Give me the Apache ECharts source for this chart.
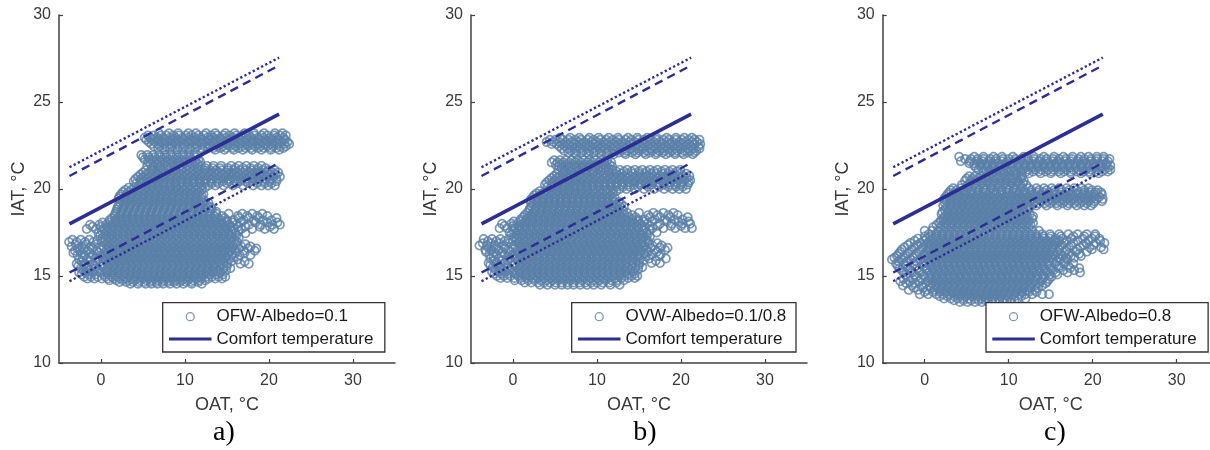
<!DOCTYPE html>
<html>
<head>
<meta charset="utf-8">
<script src="https://cdn.jsdelivr.net/npm/echarts@6/dist/echarts.min.js"></script>
<style>
  html, body { margin: 0; padding: 0; background: #fff; }
  #chart { width: 1210px; height: 450px; }
</style>
</head>
<body>
<div id="chart"></div>
<script>
// ---- labels ----
const panelTags = ['a)', 'b)', 'c)'];
const scatterNames = ['OFW-Albedo=0.1', 'OVW-Albedo=0.1/0.8', 'OFW-Albedo=0.8'];
const comfortName = 'Comfort temperature';
const xTicks = [0, 10, 20, 30];

// ---- comfort temperature line and its acceptability bands (OAT end points) ----
const lineX = [-3.75, 21.2];
const comfortY = [18.0, 24.3];
const upperDashY = [20.75, 27.1];
const lowerDashY = [15.2, 21.5];
const upperDotY = [21.25, 27.55];
const lowerDotY = [14.7, 21.0];

// ---- hourly IAT vs OAT samples, grouped by IAT row: [IAT, OAT, OAT, ...] ----
const cloudA = [
  [23.2, 6.9, 8.1, 9.2, 10.4, 11.3, 12.5, 13.6, 14.8, 15.9, 17.1, 18.2, 19.4, 20.7, 21.6],
  [23.08, 5.6, 6.3, 7.1, 7.8, 8.6, 9.3, 10.1, 10.8, 11.6, 12.3, 13.1, 13.8, 14.6, 15.3, 16.1, 16.8, 17.6, 18.3, 19.1, 19.8, 20.6, 21.3, 22.0],
  [22.95, 5.2, 5.9, 6.7, 7.4, 8.2, 8.9, 9.7, 10.4, 11.2, 11.9, 12.7, 13.4, 14.2, 14.9, 15.7, 16.4, 17.2, 17.9, 18.7, 19.4, 20.2, 20.9, 21.7],
  [22.83, 5.4, 6.1, 6.8, 7.6, 8.3, 9.1, 9.8, 10.6, 11.3, 12.1, 12.8, 13.6, 14.3, 15.1, 15.8, 16.6, 17.3, 18.1, 18.8, 19.6, 20.3, 21.1, 21.9],
  [22.7, 5.7, 6.4, 7.2, 7.9, 8.7, 9.4, 10.2, 10.9, 11.7, 12.4, 13.2, 13.9, 14.7, 15.4, 16.2, 16.9, 17.7, 18.4, 19.2, 19.9, 20.7, 21.4, 22.2],
  [22.58, 6.0, 6.8, 7.5, 8.3, 9.0, 9.8, 10.5, 11.3, 12.0, 12.8, 13.5, 14.3, 15.0, 15.8, 16.5, 17.3, 18.0, 18.8, 19.5, 20.3, 21.0, 21.8, 22.4],
  [22.45, 6.3, 7.0, 7.8, 8.5, 9.3, 10.0, 10.8, 11.5, 12.3, 13.0, 13.8, 14.5, 15.3, 16.0, 16.8, 17.5, 18.3, 19.0, 19.8, 20.5, 21.3, 22.0],
  [22.35, 6.8, 7.4, 8.2, 8.9, 9.7, 10.4, 11.2, 11.9, 12.7, 13.4, 14.2, 14.9, 15.7, 16.4, 17.2, 17.9, 18.7, 19.4, 20.2, 20.9, 21.7],
  [22.25, 7.6, 9.1, 10.6, 12.1, 13.6, 14.7, 15.8, 16.9, 18.0, 19.1, 20.2, 21.2],
  [21.95, 4.8, 5.5, 6.2, 6.9, 7.6, 8.3, 9.0, 9.7, 10.4, 11.1],
  [21.83, 5.0, 5.7, 6.4, 7.1, 7.8, 8.5, 9.2, 9.9, 10.6, 11.3],
  [21.7, 5.2, 5.9, 6.6, 7.3, 8.0, 8.7, 9.4, 10.1, 10.8, 11.6],
  [21.58, 5.6, 6.3, 7.0, 7.7, 8.4, 9.1, 9.8, 10.5, 11.2, 11.8],
  [21.45, 5.9, 6.7, 7.5, 8.3, 9.1, 9.9, 10.7, 11.5],
  [21.33, 5.5, 6.3, 7.1, 7.9, 8.7, 9.5, 10.3, 11.1, 11.9, 12.6, 13.4, 14.3, 15.5, 16.4, 17.3, 18.2, 19.1],
  [21.2, 6.1, 7.0, 7.9, 8.8, 9.7, 10.6, 11.5, 12.4, 13.3, 14.2, 15.1, 16.0, 16.9, 17.8, 18.7, 19.6],
  [21.08, 5.3, 6.0, 6.7, 7.4, 8.1, 8.8, 9.5, 10.2, 10.9, 11.6, 12.3, 13.0, 13.7, 14.4, 15.1, 15.8, 16.5, 17.2, 17.9, 18.6, 19.3, 20.0, 20.7],
  [20.95, 5.0, 5.7, 6.4, 7.1, 7.8, 8.5, 9.2, 9.9, 10.6, 11.3, 12.0, 12.7, 13.4, 14.1, 14.8, 15.5, 16.2, 16.9, 17.6, 18.3, 19.0, 19.7, 20.4, 21.1],
  [20.83, 4.7, 5.4, 6.1, 6.8, 7.5, 8.2, 8.9, 9.6, 10.3, 11.0, 11.7, 12.4, 13.1, 13.8, 14.5, 15.2, 15.9, 16.6, 17.3, 18.0, 18.7, 19.4, 20.1, 20.8],
  [20.7, 4.4, 5.1, 5.8, 6.5, 7.2, 7.9, 8.6, 9.3, 10.0, 10.7, 11.4, 12.1, 12.8, 13.5, 14.2, 14.9, 15.6, 16.3, 17.0, 17.7, 18.4, 19.1, 19.8, 20.5, 21.3],
  [20.58, 4.1, 4.8, 5.5, 6.2, 6.9, 7.6, 8.3, 9.0, 9.7, 10.4, 11.1, 11.8, 12.5, 13.2, 13.9, 14.6, 15.3, 16.0, 16.7, 17.4, 18.1, 18.8, 19.5, 20.2, 20.9],
  [20.45, 3.9, 4.7, 5.4, 6.1, 6.8, 7.5, 8.2, 8.9, 9.6, 10.3, 11.0, 11.7, 12.4, 13.1, 13.8, 14.5, 15.2, 15.9, 16.6, 17.3, 18.0, 18.7, 19.4, 20.1, 20.9],
  [20.33, 4.2, 4.9, 5.7, 6.4, 7.2, 7.9, 8.7, 9.4, 10.2, 10.9, 11.7, 12.4, 13.2, 14.0, 15.0, 16.2, 17.5, 18.6, 19.5, 20.3],
  [20.2, 4.5, 5.3, 6.0, 6.8, 7.5, 8.3, 9.0, 9.8, 10.5, 11.3, 12.0, 12.8, 13.6, 14.6, 15.7, 16.9, 18.1, 19.1, 19.9, 20.7],
  [20.08, 3.3, 4.0, 4.7, 5.4, 6.1, 6.8, 7.5, 8.2, 8.9, 9.6, 10.3, 11.0, 11.7, 12.4],
  [19.95, 2.9, 3.6, 4.3, 5.0, 5.7, 6.4, 7.1, 7.8, 8.5, 9.2, 9.9, 10.6, 11.3, 12.0],
  [19.83, 2.6, 3.3, 4.0, 4.7, 5.4, 6.1, 6.8, 7.5, 8.2, 8.9, 9.6, 10.3, 11.0, 11.7],
  [19.7, 2.4, 3.1, 3.8, 4.5, 5.2, 5.9, 6.6, 7.3, 8.0, 8.7, 9.4, 10.1, 10.8, 11.5, 12.2],
  [19.58, 2.2, 2.9, 3.6, 4.3, 5.0, 5.7, 6.4, 7.1, 7.8, 8.5, 9.2, 9.9, 10.6, 11.3, 12.0],
  [19.45, 2.1, 2.8, 3.5, 4.2, 4.9, 5.6, 6.3, 7.0, 7.7, 8.4, 9.1, 9.8, 10.5, 11.2, 11.9],
  [19.33, 2.5, 3.2, 3.9, 4.6, 5.3, 6.0, 6.7, 7.4, 8.1, 8.8, 9.5, 10.2, 10.9, 11.6, 12.3],
  [19.2, 2.3, 3.0, 3.7, 4.4, 5.1, 5.8, 6.5, 7.2, 7.9, 8.6, 9.3, 10.0, 10.7, 11.4, 12.1, 12.8],
  [19.08, 2.1, 2.8, 3.5, 4.2, 4.9, 5.6, 6.3, 7.0, 7.7, 8.4, 9.1, 9.8, 10.5, 11.2, 11.9, 12.6],
  [18.95, 2.0, 2.7, 3.4, 4.1, 4.8, 5.5, 6.2, 6.9, 7.6, 8.3, 9.0, 9.7, 10.4, 11.1, 11.8, 12.5, 13.1],
  [18.83, 1.9, 2.6, 3.3, 4.0, 4.7, 5.4, 6.1, 6.8, 7.5, 8.2, 8.9, 9.6, 10.3, 11.0, 11.7, 12.4, 13.2],
  [18.7, 1.8, 2.5, 3.2, 3.9, 4.6, 5.3, 6.0, 6.7, 7.4, 8.1, 8.8, 9.5, 10.2, 10.9, 11.6, 12.3, 13.0, 13.7],
  [18.58, 1.7, 2.4, 3.1, 3.8, 4.5, 5.2, 5.9, 6.6, 7.3, 8.0, 8.7, 9.4, 10.1, 10.8, 11.5, 12.2, 12.9, 13.7, 15.2, 16.8, 18.0, 19.2],
  [18.45, 1.6, 2.3, 3.0, 3.7, 4.4, 5.1, 5.8, 6.5, 7.2, 7.9, 8.6, 9.3, 10.0, 10.7, 11.4, 12.1, 12.8, 13.5, 14.4, 16.3, 17.4, 18.6, 19.8],
  [18.33, 1.3, 2.0, 2.7, 3.4, 4.1, 4.8, 5.5, 6.2, 6.9, 7.6, 8.3, 9.0, 9.7, 10.4, 11.1, 11.8, 12.5, 13.2, 13.9, 14.7, 16.4, 17.6, 18.8, 20.9],
  [18.2, 1.0, 1.7, 2.4, 3.1, 3.8, 4.5, 5.2, 5.9, 6.6, 7.3, 8.0, 8.7, 9.4, 10.1, 10.8, 11.5, 12.2, 12.9, 13.6, 14.3, 15.0, 15.8, 17.0, 18.2, 19.3, 20.3],
  [18.08, 0.2, 1.0, 1.7, 2.4, 3.1, 3.8, 4.5, 5.2, 5.9, 6.6, 7.3, 8.0, 8.7, 9.4, 10.1, 10.8, 11.5, 12.2, 12.9, 13.6, 14.3, 15.0, 15.7, 16.6, 18.4, 19.8, 21.0],
  [17.95, -1.3, -0.2, 0.6, 1.3, 2.0, 2.7, 3.4, 4.1, 4.8, 5.5, 6.2, 6.9, 7.6, 8.3, 9.0, 9.7, 10.4, 11.1, 11.8, 12.5, 13.2, 13.9, 14.6, 15.3, 16.1, 17.6, 19.0, 20.4, 21.3],
  [17.83, -1.0, 0.0, 0.7, 1.4, 2.1, 2.8, 3.5, 4.2, 4.9, 5.6, 6.3, 7.0, 7.7, 8.4, 9.1, 9.8, 10.5, 11.2, 11.9, 12.6, 13.3, 14.0, 14.7, 15.4, 16.3, 17.2, 18.9, 20.1],
  [17.7, -1.7, -0.6, 0.3, 1.0, 1.7, 2.4, 3.1, 3.8, 4.5, 5.2, 5.9, 6.6, 7.3, 8.0, 8.7, 9.4, 10.1, 10.8, 11.5, 12.2, 12.9, 13.6, 14.3, 15.0, 15.8, 16.7, 18.0, 19.5, 20.6],
  [17.58, 0.1, 0.8, 1.5, 2.2, 2.9, 3.6, 4.3, 5.0, 5.7, 6.4, 7.1, 7.8, 8.5, 9.2, 9.9, 10.6, 11.3, 12.0, 12.7, 13.4, 14.1, 14.8, 15.6, 16.4],
  [17.45, -0.3, 0.5, 1.2, 1.9, 2.6, 3.3, 4.0, 4.7, 5.4, 6.1, 6.8, 7.5, 8.2, 8.9, 9.6, 10.3, 11.0, 11.7, 12.4, 13.1, 13.8, 14.5, 15.2, 16.0, 17.2],
  [17.33, -0.1, 0.6, 1.3, 2.0, 2.7, 3.4, 4.1, 4.8, 5.5, 6.2, 6.9, 7.6, 8.3, 9.0, 9.7, 10.4, 11.1, 11.8, 12.5, 13.2, 13.9, 14.6, 15.3, 16.1],
  [17.2, 0.2, 0.9, 1.6, 2.3, 3.0, 3.7, 4.4, 5.1, 5.8, 6.5, 7.2, 7.9, 8.6, 9.3, 10.0, 10.7, 11.4, 12.1, 12.8, 13.5, 14.2, 14.9, 15.6, 16.4],
  [17.08, -3.4, -2.4, -1.4, -0.4, 0.5, 1.2, 1.9, 2.6, 3.3, 4.0, 4.7, 5.4, 6.1, 6.8, 7.5, 8.2, 8.9, 9.6, 10.3, 11.0, 11.7, 12.4, 13.1, 13.8, 14.5, 15.2, 15.9],
  [16.95, -3.8, -2.9, -1.9, -0.9, 0.1, 0.8, 1.5, 2.2, 2.9, 3.6, 4.3, 5.0, 5.7, 6.4, 7.1, 7.8, 8.5, 9.2, 9.9, 10.6, 11.3, 12.0, 12.7, 13.4, 14.1, 14.8, 15.5, 16.2],
  [16.83, -3.0, -1.8, -0.6, 0.6, 1.3, 2.0, 2.7, 3.4, 4.1, 4.8, 5.5, 6.2, 6.9, 7.6, 8.3, 9.0, 9.7, 10.4, 11.1, 11.8, 12.5, 13.2, 13.9, 14.6, 15.3, 16.1, 17.2],
  [16.7, -3.5, -2.3, -1.2, 0.3, 1.0, 1.7, 2.4, 3.1, 3.8, 4.5, 5.2, 5.9, 6.6, 7.3, 8.0, 8.7, 9.4, 10.1, 10.8, 11.5, 12.2, 12.9, 13.6, 14.3, 15.0, 15.7, 16.7, 17.8],
  [16.58, -2.8, -2.0, -1.0, 0.0, 0.9, 1.6, 2.3, 3.0, 3.7, 4.4, 5.1, 5.8, 6.5, 7.2, 7.9, 8.6, 9.3, 10.0, 10.7, 11.4, 12.1, 12.8, 13.5, 14.2, 14.9, 15.6, 16.4, 17.5, 18.5],
  [16.45, -3.1, -2.5, -1.6, -0.5, 0.6, 1.3, 2.0, 2.7, 3.4, 4.1, 4.8, 5.5, 6.2, 6.9, 7.6, 8.3, 9.0, 9.7, 10.4, 11.1, 11.8, 12.5, 13.2, 13.9, 14.6, 15.3, 16.0, 17.0, 18.3],
  [16.33, -3.3, -2.3, -1.3, -0.3, 0.5, 1.2, 1.9, 2.6, 3.3, 4.0, 4.7, 5.4, 6.1, 6.8, 7.5, 8.2, 8.9, 9.6, 10.3, 11.0, 11.7, 12.4, 13.1, 13.8, 14.5, 15.2, 16.0, 17.1],
  [16.2, -2.8, -2.0, -1.0, 0.0, 0.8, 1.5, 2.2, 2.9, 3.6, 4.3, 5.0, 5.7, 6.4, 7.1, 7.8, 8.5, 9.2, 9.9, 10.6, 11.3, 12.0, 12.7, 13.4, 14.1, 14.8, 15.6, 16.5, 17.8],
  [16.08, -2.2, -1.3, -0.6, 0.2, 0.9, 1.6, 2.3, 3.0, 3.7, 4.4, 5.1, 5.8, 6.5, 7.2, 7.9, 8.6, 9.3, 10.0, 10.7, 11.4, 12.1, 12.8, 13.5, 14.2, 14.9, 15.8],
  [15.95, -2.6, -1.6, -0.3, 0.5, 1.2, 1.9, 2.6, 3.3, 4.0, 4.7, 5.4, 6.1, 6.8, 7.5, 8.2, 8.9, 9.6, 10.3, 11.0, 11.7, 12.4, 13.1, 13.8, 14.5, 15.2, 16.3],
  [15.83, -2.3, -1.3, -0.6, 0.6, 1.3, 2.0, 2.7, 3.4, 4.1, 4.8, 5.5, 6.2, 6.9, 7.6, 8.3, 9.0, 9.7, 10.4, 11.1, 11.8, 12.5, 13.2, 13.9, 14.6, 15.5, 17.1],
  [15.7, -2.9, -2.0, -1.0, 0.2, 0.9, 1.6, 2.3, 3.0, 3.7, 4.4, 5.1, 5.8, 6.5, 7.2, 7.9, 8.6, 9.3, 10.0, 10.7, 11.4, 12.1, 12.8, 13.5, 14.2, 15.0, 16.6, 17.6],
  [15.58, -2.7, -1.8, -0.8, 0.1, 0.8, 1.5, 2.2, 2.9, 3.6, 4.3, 5.0, 5.7, 6.4, 7.1, 7.8, 8.5, 9.2, 9.9, 10.6, 11.3, 12.0, 12.7, 13.4, 14.2, 15.0],
  [15.45, -2.4, -1.5, -0.6, 0.4, 1.1, 1.8, 2.5, 3.2, 3.9, 4.6, 5.3, 6.0, 6.7, 7.4, 8.1, 8.8, 9.5, 10.2, 10.9, 11.6, 12.3, 13.0, 13.7, 14.6, 15.4],
  [15.33, -2.1, -1.3, -0.3, 0.7, 1.4, 2.1, 2.8, 3.5, 4.2, 4.9, 5.6, 6.3, 7.0, 7.7, 8.4, 9.1, 9.8, 10.5, 11.2, 11.9, 12.6, 13.3, 14.0, 14.9],
  [15.2, -2.6, -1.8, -1.0, 0.0, 0.7, 1.4, 2.1, 2.8, 3.5, 4.2, 4.9, 5.6, 6.3, 7.0, 7.7, 8.4, 9.1, 9.8, 10.5, 11.2, 11.9, 12.6, 13.3, 14.2],
  [15.08, -2.3, -1.5, -0.7, 0.3, 1.0, 1.7, 2.4, 3.1, 3.8, 4.5, 5.2, 5.9, 6.6, 7.3, 8.0, 8.7, 9.4, 10.1, 10.8, 11.5, 12.2, 12.9, 13.7, 14.5],
  [14.95, -2.0, -1.2, -0.4, 0.5, 1.3, 2.0, 2.7, 3.4, 4.1, 4.8, 5.5, 6.2, 6.9, 7.6, 8.3, 9.0, 9.7, 10.4, 11.1, 11.8, 12.5, 13.2, 14.0, 14.8],
  [14.85, -1.6, -0.8, 0.1, 0.8, 1.5, 2.2, 2.9, 3.6, 4.3, 5.0, 5.7, 6.4, 7.1, 7.8, 8.5, 9.2, 9.9, 10.6, 11.3, 12.0, 12.8, 13.6, 14.4],
  [14.75, 1.0, 1.8, 2.6, 3.3, 4.0, 4.7, 5.4, 6.1, 6.8, 7.5, 8.2, 8.9, 9.6, 10.3, 11.0, 11.7, 12.4],
  [14.65, 2.2, 3.0, 3.8, 4.5, 5.2, 5.9, 6.6, 7.3, 8.0, 8.7, 9.4, 10.1, 10.8, 11.6],
  [14.55, 3.5, 4.4, 5.3, 6.0, 6.7, 7.4, 8.2, 9.0, 9.8, 10.8, 12.0]
];

const cloudB = [
  [22.95, 5.6, 6.8, 7.9, 9.1, 10.2, 11.4, 12.5, 13.7, 14.8, 16.0, 17.1, 18.3, 19.4, 20.4, 21.3],
  [22.83, 4.4, 5.1, 5.9, 6.6, 7.4, 8.1, 8.9, 9.6, 10.4, 11.1, 11.9, 12.6, 13.4, 14.1, 14.9, 15.6, 16.4, 17.1, 17.9, 18.6, 19.4, 20.1, 20.9, 21.6, 22.2],
  [22.7, 4.0, 4.8, 5.5, 6.3, 7.0, 7.8, 8.5, 9.3, 10.0, 10.8, 11.5, 12.3, 13.0, 13.8, 14.5, 15.3, 16.0, 16.8, 17.5, 18.3, 19.0, 19.8, 20.5, 21.3, 21.9],
  [22.58, 4.6, 5.2, 5.9, 6.6, 7.4, 8.1, 8.9, 9.6, 10.4, 11.1, 11.9, 12.6, 13.4, 14.1, 14.9, 15.6, 16.4, 17.1, 17.9, 18.6, 19.4, 20.1, 20.9, 21.6, 22.3],
  [22.45, 5.5, 6.2, 7.0, 7.7, 8.5, 9.2, 10.0, 10.7, 11.5, 12.2, 13.0, 13.7, 14.5, 15.2, 16.0, 16.7, 17.5, 18.2, 19.0, 19.7, 20.5, 21.2, 22.1],
  [22.33, 5.8, 6.5, 7.3, 8.0, 8.8, 9.5, 10.3, 11.0, 11.8, 12.5, 13.3, 14.0, 14.8, 15.5, 16.3, 17.0, 17.8, 18.5, 19.3, 20.0, 20.8, 21.5, 22.2],
  [22.2, 6.1, 6.9, 7.6, 8.4, 9.1, 9.9, 10.6, 11.4, 12.1, 12.9, 13.6, 14.4, 15.1, 15.9, 16.6, 17.4, 18.1, 18.9, 19.6, 20.4, 21.1, 21.8],
  [22.1, 6.6, 7.3, 8.1, 8.8, 9.6, 10.3, 11.1, 11.8, 12.6, 13.3, 14.1, 14.8, 15.6, 16.3, 17.1, 17.8, 18.6, 19.3, 20.1, 20.8, 21.6],
  [22.0, 7.5, 9.0, 10.5, 12.0, 13.4, 14.6, 15.8, 17.0, 18.2, 19.3, 20.3, 21.4],
  [21.65, 4.9, 5.6, 6.3, 7.0, 7.7, 8.4, 9.1, 9.8, 10.5, 11.2],
  [21.53, 4.6, 5.3, 6.0, 6.7, 7.4, 8.1, 8.8, 9.5, 10.2, 10.9, 11.7],
  [21.4, 5.1, 5.8, 6.5, 7.2, 7.9, 8.6, 9.3, 10.0, 10.7, 11.5],
  [21.3, 5.5, 6.2, 6.9, 7.6, 8.3, 9.0, 9.7, 10.4, 11.1, 11.8],
  [21.2, 5.8, 6.6, 7.4, 8.2, 9.0, 9.8, 10.6, 11.4],
  [21.1, 5.4, 6.2, 7.0, 7.8, 8.6, 9.4, 10.2, 11.0, 11.8, 12.7, 13.6, 14.5, 15.4, 16.3, 17.2, 18.1, 19.0, 19.9],
  [21.0, 6.0, 6.9, 7.8, 8.7, 9.6, 10.5, 11.4, 12.3, 13.2, 14.1, 15.0, 15.9, 16.8, 17.7, 18.6, 19.5],
  [20.88, 5.2, 5.9, 6.6, 7.3, 8.0, 8.7, 9.4, 10.1, 10.8, 11.5, 12.2, 12.9, 13.6, 14.3, 15.0, 15.7, 16.4, 17.1, 17.8, 18.5, 19.2, 19.9, 20.6],
  [20.75, 4.9, 5.6, 6.3, 7.0, 7.7, 8.4, 9.1, 9.8, 10.5, 11.2, 11.9, 12.6, 13.3, 14.0, 14.7, 15.4, 16.1, 16.8, 17.5, 18.2, 18.9, 19.6, 20.3, 21.0],
  [20.63, 4.6, 5.3, 6.0, 6.7, 7.4, 8.1, 8.8, 9.5, 10.2, 10.9, 11.6, 12.3, 13.0, 13.7, 14.4, 15.1, 15.8, 16.5, 17.2, 17.9, 18.6, 19.3, 20.0, 20.7],
  [20.5, 4.3, 5.0, 5.7, 6.4, 7.1, 7.8, 8.5, 9.2, 9.9, 10.6, 11.3, 12.0, 12.7, 13.4, 14.1, 14.8, 15.5, 16.2, 16.9, 17.6, 18.3, 19.0, 19.7, 20.4, 21.1],
  [20.38, 4.0, 4.7, 5.4, 6.1, 6.8, 7.5, 8.2, 8.9, 9.6, 10.3, 11.0, 11.7, 12.4, 13.1, 13.8, 14.5, 15.2, 15.9, 16.6, 17.3, 18.0, 18.7, 19.4, 20.1, 20.9],
  [20.25, 3.8, 4.6, 5.3, 6.0, 6.7, 7.4, 8.1, 8.8, 9.5, 10.2, 10.9, 11.6, 12.3, 13.0, 13.7, 14.4, 15.1, 15.8, 16.5, 17.2, 17.9, 18.6, 19.3, 20.0, 20.8],
  [20.13, 4.1, 4.8, 5.6, 6.3, 7.1, 7.8, 8.6, 9.3, 10.1, 10.8, 11.6, 12.3, 13.1, 13.9, 14.9, 16.1, 17.4, 18.5, 19.4, 20.2],
  [20.0, 4.4, 5.2, 5.9, 6.7, 7.4, 8.2, 8.9, 9.7, 10.4, 11.2, 11.9, 12.7, 13.5, 14.5, 15.6, 16.8, 18.0, 19.0, 19.8, 20.6],
  [19.88, 3.2, 3.9, 4.6, 5.3, 6.0, 6.7, 7.4, 8.1, 8.8, 9.5, 10.2, 10.9, 11.6, 12.3],
  [19.75, 2.8, 3.5, 4.2, 4.9, 5.6, 6.3, 7.0, 7.7, 8.4, 9.1, 9.8, 10.5, 11.2, 11.9],
  [19.63, 2.5, 3.2, 3.9, 4.6, 5.3, 6.0, 6.7, 7.4, 8.1, 8.8, 9.5, 10.2, 10.9, 11.6],
  [19.5, 2.3, 3.0, 3.7, 4.4, 5.1, 5.8, 6.5, 7.2, 7.9, 8.6, 9.3, 10.0, 10.7, 11.4, 12.1],
  [19.38, 2.1, 2.8, 3.5, 4.2, 4.9, 5.6, 6.3, 7.0, 7.7, 8.4, 9.1, 9.8, 10.5, 11.2, 11.9],
  [19.25, 2.1, 2.8, 3.5, 4.2, 4.9, 5.6, 6.3, 7.0, 7.7, 8.4, 9.1, 9.8, 10.5, 11.2, 11.9, 12.6],
  [19.13, 2.4, 3.1, 3.8, 4.5, 5.2, 5.9, 6.6, 7.3, 8.0, 8.7, 9.4, 10.1, 10.8, 11.5, 12.2, 12.9],
  [19.0, 2.2, 2.9, 3.6, 4.3, 5.0, 5.7, 6.4, 7.1, 7.8, 8.5, 9.2, 9.9, 10.6, 11.3, 12.0, 12.7, 13.2],
  [18.88, 2.0, 2.7, 3.4, 4.1, 4.8, 5.5, 6.2, 6.9, 7.6, 8.3, 9.0, 9.7, 10.4, 11.1, 11.8, 12.5],
  [18.75, 1.9, 2.6, 3.3, 4.0, 4.7, 5.4, 6.1, 6.8, 7.5, 8.2, 8.9, 9.6, 10.3, 11.0, 11.7, 12.4, 13.1],
  [18.63, 1.7, 2.4, 3.1, 3.8, 4.5, 5.2, 5.9, 6.6, 7.3, 8.0, 8.7, 9.4, 10.1, 10.8, 11.5, 12.2, 12.9, 13.6, 15.0, 16.7, 17.9, 19.1],
  [18.5, 1.4, 2.1, 2.8, 3.5, 4.2, 4.9, 5.6, 6.3, 7.0, 7.7, 8.4, 9.1, 9.8, 10.5, 11.2, 11.9, 12.6, 13.3, 14.2, 16.1, 17.2, 18.5, 19.6],
  [18.38, 1.2, 1.9, 2.6, 3.3, 4.0, 4.7, 5.4, 6.1, 6.8, 7.5, 8.2, 8.9, 9.6, 10.3, 11.0, 11.7, 12.4, 13.1, 13.8, 14.6, 16.3, 17.5, 18.7, 20.8],
  [18.25, 0.9, 1.6, 2.3, 3.0, 3.7, 4.4, 5.1, 5.8, 6.5, 7.2, 7.9, 8.6, 9.3, 10.0, 10.7, 11.4, 12.1, 12.8, 13.5, 14.2, 14.9, 15.7, 16.9, 18.1, 19.2, 20.2],
  [18.13, 0.1, 0.9, 1.6, 2.3, 3.0, 3.7, 4.4, 5.1, 5.8, 6.5, 7.2, 7.9, 8.6, 9.3, 10.0, 10.7, 11.4, 12.1, 12.8, 13.5, 14.2, 14.9, 15.6, 16.5, 18.3, 19.7, 20.9],
  [18.0, -1.3, -0.2, 0.5, 1.2, 1.9, 2.6, 3.3, 4.0, 4.7, 5.4, 6.1, 6.8, 7.5, 8.2, 8.9, 9.6, 10.3, 11.0, 11.7, 12.4, 13.1, 13.8, 14.5, 15.2, 16.0, 17.5, 18.9, 20.2, 21.1],
  [17.88, -1.0, 0.0, 0.7, 1.4, 2.1, 2.8, 3.5, 4.2, 4.9, 5.6, 6.3, 7.0, 7.7, 8.4, 9.1, 9.8, 10.5, 11.2, 11.9, 12.6, 13.3, 14.0, 14.7, 15.4, 16.3, 17.2, 18.8, 20.0],
  [17.75, -1.6, -0.7, 0.2, 0.9, 1.6, 2.3, 3.0, 3.7, 4.4, 5.1, 5.8, 6.5, 7.2, 7.9, 8.6, 9.3, 10.0, 10.7, 11.4, 12.1, 12.8, 13.5, 14.2, 14.9, 15.7, 16.6, 17.9, 19.3, 20.5, 21.3],
  [17.63, 0.0, 0.7, 1.4, 2.1, 2.8, 3.5, 4.2, 4.9, 5.6, 6.3, 7.0, 7.7, 8.4, 9.1, 9.8, 10.5, 11.2, 11.9, 12.6, 13.3, 14.0, 14.7, 15.5, 16.3],
  [17.5, -0.4, 0.4, 1.1, 1.8, 2.5, 3.2, 3.9, 4.6, 5.3, 6.0, 6.7, 7.4, 8.1, 8.8, 9.5, 10.2, 10.9, 11.6, 12.3, 13.0, 13.7, 14.4, 15.1, 15.9, 17.1],
  [17.38, -0.2, 0.5, 1.2, 1.9, 2.6, 3.3, 4.0, 4.7, 5.4, 6.1, 6.8, 7.5, 8.2, 8.9, 9.6, 10.3, 11.0, 11.7, 12.4, 13.1, 13.8, 14.5, 15.2, 16.0],
  [17.25, 0.1, 0.8, 1.5, 2.2, 2.9, 3.6, 4.3, 5.0, 5.7, 6.4, 7.1, 7.8, 8.5, 9.2, 9.9, 10.6, 11.3, 12.0, 12.7, 13.4, 14.1, 14.8, 15.5, 16.3],
  [17.13, -3.5, -2.5, -1.5, -0.5, 0.4, 1.1, 1.8, 2.5, 3.2, 3.9, 4.6, 5.3, 6.0, 6.7, 7.4, 8.1, 8.8, 9.5, 10.2, 10.9, 11.6, 12.3, 13.0, 13.7, 14.4, 15.1, 15.8],
  [17.0, -3.0, -2.0, -1.0, 0.0, 0.7, 1.4, 2.1, 2.8, 3.5, 4.2, 4.9, 5.6, 6.3, 7.0, 7.7, 8.4, 9.1, 9.8, 10.5, 11.2, 11.9, 12.6, 13.3, 14.0, 14.7, 15.4, 16.1],
  [16.88, -3.6, -2.6, -1.6, -0.5, 0.6, 1.3, 2.0, 2.7, 3.4, 4.1, 4.8, 5.5, 6.2, 6.9, 7.6, 8.3, 9.0, 9.7, 10.4, 11.1, 11.8, 12.5, 13.2, 13.9, 14.6, 15.3, 16.1, 17.2],
  [16.75, -4.0, -3.1, -2.2, -1.1, 0.2, 0.9, 1.6, 2.3, 3.0, 3.7, 4.4, 5.1, 5.8, 6.5, 7.2, 7.9, 8.6, 9.3, 10.0, 10.7, 11.4, 12.1, 12.8, 13.5, 14.2, 14.9, 15.6, 16.6, 17.7],
  [16.63, -2.9, -2.0, -1.0, 0.0, 0.9, 1.6, 2.3, 3.0, 3.7, 4.4, 5.1, 5.8, 6.5, 7.2, 7.9, 8.6, 9.3, 10.0, 10.7, 11.4, 12.1, 12.8, 13.5, 14.2, 14.9, 15.6, 16.4, 17.5, 18.4],
  [16.5, -3.3, -2.6, -1.7, -0.6, 0.5, 1.2, 1.9, 2.6, 3.3, 4.0, 4.7, 5.4, 6.1, 6.8, 7.5, 8.2, 8.9, 9.6, 10.3, 11.0, 11.7, 12.4, 13.1, 13.8, 14.5, 15.2, 15.9, 16.9, 18.1],
  [16.38, -3.2, -2.3, -1.3, -0.3, 0.5, 1.2, 1.9, 2.6, 3.3, 4.0, 4.7, 5.4, 6.1, 6.8, 7.5, 8.2, 8.9, 9.6, 10.3, 11.0, 11.7, 12.4, 13.1, 13.8, 14.5, 15.2, 16.0, 17.1],
  [16.25, -2.8, -2.0, -1.0, 0.0, 0.8, 1.5, 2.2, 2.9, 3.6, 4.3, 5.0, 5.7, 6.4, 7.1, 7.8, 8.5, 9.2, 9.9, 10.6, 11.3, 12.0, 12.7, 13.4, 14.1, 14.8, 15.6, 16.5, 17.6],
  [16.13, -2.3, -1.4, -0.6, 0.2, 0.9, 1.6, 2.3, 3.0, 3.7, 4.4, 5.1, 5.8, 6.5, 7.2, 7.9, 8.6, 9.3, 10.0, 10.7, 11.4, 12.1, 12.8, 13.5, 14.2, 14.9, 15.8, 17.4],
  [16.0, -2.7, -1.7, -0.4, 0.4, 1.1, 1.8, 2.5, 3.2, 3.9, 4.6, 5.3, 6.0, 6.7, 7.4, 8.1, 8.8, 9.5, 10.2, 10.9, 11.6, 12.3, 13.0, 13.7, 14.4, 15.1, 16.2, 18.2],
  [15.88, -2.3, -1.3, -0.6, 0.6, 1.3, 2.0, 2.7, 3.4, 4.1, 4.8, 5.5, 6.2, 6.9, 7.6, 8.3, 9.0, 9.7, 10.4, 11.1, 11.8, 12.5, 13.2, 13.9, 14.6, 15.5, 17.0],
  [15.75, -2.9, -2.0, -1.0, 0.2, 0.9, 1.6, 2.3, 3.0, 3.7, 4.4, 5.1, 5.8, 6.5, 7.2, 7.9, 8.6, 9.3, 10.0, 10.7, 11.4, 12.1, 12.8, 13.5, 14.2, 15.0, 16.5, 17.5],
  [15.63, -2.7, -1.8, -0.8, 0.1, 0.8, 1.5, 2.2, 2.9, 3.6, 4.3, 5.0, 5.7, 6.4, 7.1, 7.8, 8.5, 9.2, 9.9, 10.6, 11.3, 12.0, 12.7, 13.4, 14.2, 15.0],
  [15.5, -2.4, -1.5, -0.6, 0.4, 1.1, 1.8, 2.5, 3.2, 3.9, 4.6, 5.3, 6.0, 6.7, 7.4, 8.1, 8.8, 9.5, 10.2, 10.9, 11.6, 12.3, 13.0, 13.7, 14.6, 15.4],
  [15.38, -2.1, -1.2, -0.3, 0.7, 1.4, 2.1, 2.8, 3.5, 4.2, 4.9, 5.6, 6.3, 7.0, 7.7, 8.4, 9.1, 9.8, 10.5, 11.2, 11.9, 12.6, 13.3, 14.0, 14.9],
  [15.25, -2.5, -1.7, -0.9, 0.1, 0.8, 1.5, 2.2, 2.9, 3.6, 4.3, 5.0, 5.7, 6.4, 7.1, 7.8, 8.5, 9.2, 9.9, 10.6, 11.3, 12.0, 12.7, 13.4, 14.3],
  [15.13, -2.2, -1.4, -0.6, 0.3, 1.0, 1.7, 2.4, 3.1, 3.8, 4.5, 5.2, 5.9, 6.6, 7.3, 8.0, 8.7, 9.4, 10.1, 10.8, 11.5, 12.2, 12.9, 13.7, 14.5],
  [15.0, -1.9, -1.1, -0.3, 0.6, 1.4, 2.1, 2.8, 3.5, 4.2, 4.9, 5.6, 6.3, 7.0, 7.7, 8.4, 9.1, 9.8, 10.5, 11.2, 11.9, 12.6, 13.3, 14.1, 14.8],
  [14.88, -1.5, -0.7, 0.2, 0.9, 1.6, 2.3, 3.0, 3.7, 4.4, 5.1, 5.8, 6.5, 7.2, 7.9, 8.6, 9.3, 10.0, 10.7, 11.4, 12.1, 12.9, 13.7, 14.5],
  [14.75, 0.2, 1.0, 1.8, 2.6, 3.3, 4.0, 4.7, 5.4, 6.1, 6.8, 7.5, 8.2, 8.9, 9.6, 10.3, 11.0, 11.7, 12.4, 13.2],
  [14.62, 1.4, 2.2, 3.0, 3.7, 4.4, 5.1, 5.8, 6.5, 7.2, 7.9, 8.6, 9.3, 10.0, 10.7, 11.5, 12.3],
  [14.5, 3.2, 4.1, 5.0, 5.8, 6.5, 7.2, 8.0, 8.8, 9.6, 10.5, 11.6, 12.7]
];

const cloudC = [
  [21.85, 4.1, 5.9, 7.0, 8.2, 9.2, 10.5, 11.8, 13.0, 14.2, 15.4, 16.5, 17.6, 18.6, 19.5, 20.5, 21.3],
  [21.73, 4.8, 5.5, 6.3, 7.0, 7.8, 8.5, 9.3, 10.0, 10.8, 11.5, 12.3, 13.0, 13.8, 14.5, 15.3, 16.0, 16.8, 17.5, 18.3, 19.0, 19.8, 20.5, 21.3, 22.0],
  [21.6, 4.3, 5.4, 6.2, 6.9, 7.7, 8.4, 9.2, 9.9, 10.7, 11.4, 12.2, 12.9, 13.7, 14.4, 15.2, 15.9, 16.7, 17.4, 18.2, 18.9, 19.7, 20.4, 21.2, 21.8],
  [21.48, 5.3, 5.9, 6.6, 7.3, 8.1, 8.8, 9.6, 10.3, 11.1, 11.8, 12.6, 13.3, 14.1, 14.8, 15.6, 16.3, 17.1, 17.8, 18.6, 19.3, 20.1, 20.8, 21.6],
  [21.35, 5.9, 6.6, 7.4, 8.1, 8.9, 9.6, 10.4, 11.1, 11.9, 12.6, 13.4, 14.1, 14.9, 15.6, 16.4, 17.1, 17.9, 18.6, 19.4, 20.1, 20.9, 21.6, 22.1],
  [21.23, 6.1, 6.8, 7.5, 8.3, 9.0, 9.8, 10.5, 11.3, 12.0, 12.8, 13.5, 14.3, 15.0, 15.8, 16.5, 17.3, 18.0, 18.8, 19.5, 20.3, 21.0, 21.8],
  [21.1, 6.4, 7.2, 7.9, 8.7, 9.4, 10.2, 10.9, 11.7, 12.4, 13.2, 13.9, 14.7, 15.4, 16.2, 16.9, 17.7, 18.4, 19.2, 19.9, 20.7, 21.4, 22.1],
  [21.0, 7.0, 7.7, 8.4, 9.1, 9.9, 10.6, 11.4, 12.1, 12.9, 13.6, 14.4, 15.1, 15.9, 16.6, 17.4, 18.1, 18.9, 19.6, 20.4, 21.1, 21.8],
  [20.9, 8.0, 9.5, 11.0, 12.4, 13.8, 15.0, 16.2, 17.4, 18.6, 19.7, 20.7],
  [20.73, 5.3, 6.0, 6.7, 7.4, 8.1, 8.8, 9.5, 10.2, 10.9, 11.6],
  [20.6, 5.0, 5.7, 6.4, 7.1, 7.8, 8.5, 9.2, 9.9, 10.6, 11.4],
  [20.48, 4.8, 5.5, 6.2, 6.9, 7.6, 8.3, 9.0, 9.7, 10.4, 11.1, 11.8],
  [20.35, 5.4, 6.1, 6.8, 7.5, 8.2, 8.9, 9.6, 10.3, 11.0, 11.7],
  [20.23, 4.4, 5.1, 5.8, 6.5, 7.2, 7.9, 8.6, 9.3, 10.0, 10.7, 11.4, 12.1],
  [20.05, 3.4, 4.3, 5.2, 6.1, 7.0, 7.9, 8.8, 9.7, 10.6, 11.5, 12.4, 13.3, 14.2, 15.1, 16.0, 16.9, 17.8, 18.7, 19.5],
  [19.93, 3.1, 3.8, 4.6, 5.5, 6.4, 7.3, 8.2, 9.1, 10.0, 10.9, 11.8, 12.7, 13.6, 14.5, 15.4, 16.3, 17.2, 18.1, 19.0, 19.9, 20.6],
  [19.8, 2.9, 3.6, 4.3, 5.0, 5.7, 6.4, 7.1, 7.8, 8.5, 9.2, 9.9, 10.6, 11.3, 12.0, 12.7, 13.4, 14.1, 14.8, 15.5, 16.2, 16.9, 17.6, 18.3, 19.0, 19.7, 20.4, 21.0],
  [19.68, 2.7, 3.4, 4.1, 4.8, 5.5, 6.2, 6.9, 7.6, 8.3, 9.0, 9.7, 10.4, 11.1, 11.8, 12.5, 13.2, 13.9, 14.6, 15.3, 16.0, 16.7, 17.4, 18.1, 18.8, 19.5, 20.2, 21.1],
  [19.55, 2.5, 3.2, 3.9, 4.6, 5.3, 6.0, 6.7, 7.4, 8.1, 8.8, 9.5, 10.2, 10.9, 11.6, 12.3, 13.0, 13.7, 14.4, 15.1, 15.8, 16.5, 17.2, 17.9, 18.6, 19.3, 20.0, 20.8],
  [19.43, 2.3, 3.0, 3.7, 4.4, 5.1, 5.8, 6.5, 7.2, 7.9, 8.6, 9.3, 10.0, 10.7, 11.4, 12.1, 12.8, 13.5, 14.2, 14.9, 15.6, 16.3, 17.0, 17.7, 18.4, 19.1, 19.8, 20.5, 21.2],
  [19.3, 2.6, 3.4, 4.1, 4.8, 5.5, 6.2, 6.9, 7.6, 8.3, 9.0, 9.7, 10.4, 11.1, 11.8, 12.5, 13.2, 13.9, 14.6, 15.3, 16.0, 16.7, 17.4, 18.1, 18.8, 19.5, 20.2, 21.1],
  [19.18, 2.4, 3.1, 3.8, 4.5, 5.2, 5.9, 6.6, 7.3, 8.0, 8.7, 9.4, 10.1, 10.8, 11.5, 12.2, 12.9, 13.6, 14.3, 15.0, 15.7, 16.4, 17.1, 17.8, 18.5, 19.3, 20.1],
  [19.05, 2.2, 3.0, 3.7, 4.4, 5.1, 5.8, 6.5, 7.2, 7.9, 8.6, 9.3, 10.0, 10.7, 11.4, 12.2, 13.3, 14.5, 15.8, 17.0, 18.1, 19.0, 19.8],
  [18.93, 2.6, 3.3, 4.0, 4.7, 5.4, 6.1, 6.8, 7.5, 8.2, 8.9, 9.6, 10.3, 11.0, 11.7, 12.5],
  [18.8, 2.4, 3.1, 3.8, 4.5, 5.2, 5.9, 6.6, 7.3, 8.0, 8.7, 9.4, 10.1, 10.8, 11.5, 12.2],
  [18.68, 2.1, 2.8, 3.5, 4.2, 4.9, 5.6, 6.3, 7.0, 7.7, 8.4, 9.1, 9.8, 10.5, 11.2, 11.9],
  [18.55, 2.0, 2.7, 3.4, 4.1, 4.8, 5.5, 6.2, 6.9, 7.6, 8.3, 9.0, 9.7, 10.4, 11.1, 11.8, 12.5],
  [18.43, 2.4, 3.1, 3.8, 4.5, 5.2, 5.9, 6.6, 7.3, 8.0, 8.7, 9.4, 10.1, 10.8, 11.5, 12.2, 12.9],
  [18.3, 2.2, 2.9, 3.6, 4.3, 5.0, 5.7, 6.4, 7.1, 7.8, 8.5, 9.2, 9.9, 10.6, 11.3, 12.0, 12.8],
  [18.18, 1.9, 2.6, 3.3, 4.0, 4.7, 5.4, 6.1, 6.8, 7.5, 8.2, 8.9, 9.6, 10.3, 11.0, 11.7, 12.4],
  [18.05, 1.7, 2.4, 3.1, 3.8, 4.5, 5.2, 5.9, 6.6, 7.3, 8.0, 8.7, 9.4, 10.1, 10.8, 11.5, 12.2, 12.9],
  [17.93, 1.4, 2.1, 2.8, 3.5, 4.2, 4.9, 5.6, 6.3, 7.0, 7.7, 8.4, 9.1, 9.8, 10.5, 11.2, 11.9, 12.6],
  [17.8, 1.0, 1.9, 2.6, 3.3, 4.0, 4.7, 5.4, 6.1, 6.8, 7.5, 8.2, 8.9, 9.6, 10.3, 11.0, 11.7, 12.4],
  [17.6, 0.0, 0.9, 1.6, 2.3, 3.0, 3.7, 4.4, 5.1, 5.8, 6.5, 7.2, 7.9, 8.6, 9.3, 10.0, 10.7, 11.4, 12.1, 12.8, 13.6],
  [17.4, 0.5, 1.3, 2.0, 2.7, 3.4, 4.1, 4.8, 5.5, 6.2, 6.9, 7.6, 8.3, 9.0, 9.7, 10.4, 11.1, 11.8, 12.5, 13.2, 14.0, 14.9, 16.0, 17.1, 18.2, 19.3, 20.3],
  [17.28, 0.0, 0.7, 1.4, 2.1, 2.8, 3.5, 4.2, 4.9, 5.6, 6.3, 7.0, 7.7, 8.4, 9.1, 9.8, 10.5, 11.2, 11.9, 12.6, 13.3, 14.1, 15.0, 16.2, 17.7, 19.0, 20.3],
  [17.15, -0.8, 0.2, 0.9, 1.6, 2.3, 3.0, 3.7, 4.4, 5.1, 5.8, 6.5, 7.2, 7.9, 8.6, 9.3, 10.0, 10.7, 11.4, 12.1, 12.8, 13.5, 14.2, 14.9, 15.6, 16.4, 17.5, 18.8, 19.9, 20.8],
  [17.03, -1.2, -0.1, 0.6, 1.3, 2.0, 2.7, 3.4, 4.1, 4.8, 5.5, 6.2, 6.9, 7.6, 8.3, 9.0, 9.7, 10.4, 11.1, 11.8, 12.5, 13.2, 13.9, 14.6, 15.3, 16.0, 16.9, 18.2, 19.5, 20.9],
  [16.9, -1.7, -0.5, 0.4, 1.1, 1.8, 2.5, 3.2, 3.9, 4.6, 5.3, 6.0, 6.7, 7.4, 8.1, 8.8, 9.5, 10.2, 10.9, 11.6, 12.3, 13.0, 13.7, 14.4, 15.1, 15.8, 16.6, 17.7, 19.2, 20.4, 21.4],
  [16.78, -2.0, -0.9, 0.1, 0.8, 1.5, 2.2, 2.9, 3.6, 4.3, 5.0, 5.7, 6.4, 7.1, 7.8, 8.5, 9.2, 9.9, 10.6, 11.3, 12.0, 12.7, 13.4, 14.1, 14.8, 15.5, 16.3, 17.4, 18.9, 20.1],
  [16.65, -2.4, -1.3, -0.2, 0.6, 1.3, 2.0, 2.7, 3.4, 4.1, 4.8, 5.5, 6.2, 6.9, 7.6, 8.3, 9.0, 9.7, 10.4, 11.1, 11.8, 12.5, 13.2, 13.9, 14.6, 15.3, 16.1, 17.2, 18.5, 19.6, 21.0],
  [16.53, -2.7, -1.5, -0.4, 0.4, 1.1, 1.8, 2.5, 3.2, 3.9, 4.6, 5.3, 6.0, 6.7, 7.4, 8.1, 8.8, 9.5, 10.2, 10.9, 11.6, 12.3, 13.0, 13.7, 14.4, 15.1, 15.9, 16.9, 18.2, 19.9, 21.3],
  [16.4, -2.9, -1.8, -0.7, 0.3, 1.0, 1.7, 2.4, 3.1, 3.8, 4.5, 5.2, 5.9, 6.6, 7.3, 8.0, 8.7, 9.4, 10.1, 10.8, 11.5, 12.2, 12.9, 13.6, 14.3, 15.0, 15.8, 16.8, 18.0, 19.3],
  [16.28, -3.1, -2.0, -1.0, 0.0, 0.7, 1.4, 2.1, 2.8, 3.5, 4.2, 4.9, 5.6, 6.3, 7.0, 7.7, 8.4, 9.1, 9.8, 10.5, 11.2, 11.9, 12.6, 13.3, 14.0, 14.7, 15.4, 16.2, 17.2, 18.4],
  [16.15, -3.3, -2.3, -1.2, 0.0, 0.7, 1.4, 2.1, 2.8, 3.5, 4.2, 4.9, 5.6, 6.3, 7.0, 7.7, 8.4, 9.1, 9.8, 10.5, 11.2, 11.9, 12.6, 13.3, 14.0, 14.7, 15.5, 16.4, 17.4, 18.6],
  [16.05, -3.6, -2.5, -1.4, -0.3, 0.4, 1.1, 1.8, 2.5, 3.2, 3.9, 4.6, 5.3, 6.0, 6.7, 7.4, 8.1, 8.8, 9.5, 10.2, 10.9, 11.6, 12.3, 13.0, 13.7, 14.4, 15.1, 15.9, 16.8, 17.8],
  [15.95, -3.9, -2.8, -1.7, -0.5, 0.4, 1.1, 1.8, 2.5, 3.2, 3.9, 4.6, 5.3, 6.0, 6.7, 7.4, 8.1, 8.8, 9.5, 10.2, 10.9, 11.6, 12.3, 13.0, 13.7, 14.4, 15.2, 16.1, 17.0],
  [15.83, -3.1, -2.1, -1.0, 0.1, 0.8, 1.5, 2.2, 2.9, 3.6, 4.3, 5.0, 5.7, 6.4, 7.1, 7.8, 8.5, 9.2, 9.9, 10.6, 11.3, 12.0, 12.7, 13.4, 14.1, 14.8, 15.7, 16.6],
  [15.7, -3.4, -2.4, -1.3, -0.2, 0.6, 1.3, 2.0, 2.7, 3.4, 4.1, 4.8, 5.5, 6.2, 6.9, 7.6, 8.3, 9.0, 9.7, 10.4, 11.1, 11.8, 12.5, 13.2, 13.9, 14.6, 15.5, 16.6, 17.7],
  [15.58, -3.2, -2.2, -1.1, 0.0, 0.7, 1.4, 2.1, 2.8, 3.5, 4.2, 4.9, 5.6, 6.3, 7.0, 7.7, 8.4, 9.1, 9.8, 10.5, 11.2, 11.9, 12.6, 13.3, 14.0, 14.8, 16.0, 17.1],
  [15.45, -3.0, -2.0, -0.9, 0.2, 0.9, 1.6, 2.3, 3.0, 3.7, 4.4, 5.1, 5.8, 6.5, 7.2, 7.9, 8.6, 9.3, 10.0, 10.7, 11.4, 12.1, 12.8, 13.5, 14.2, 15.0, 16.0, 17.3, 18.4],
  [15.33, -2.7, -1.7, -0.7, 0.3, 1.0, 1.7, 2.4, 3.1, 3.8, 4.5, 5.2, 5.9, 6.6, 7.3, 8.0, 8.7, 9.4, 10.1, 10.8, 11.5, 12.2, 12.9, 13.6, 14.4, 15.3, 16.5, 17.8],
  [15.2, -2.5, -1.5, -0.5, 0.5, 1.2, 1.9, 2.6, 3.3, 4.0, 4.7, 5.4, 6.1, 6.8, 7.5, 8.2, 8.9, 9.6, 10.3, 11.0, 11.7, 12.4, 13.1, 13.8, 14.6, 15.6, 17.0, 18.5],
  [15.08, -2.2, -1.2, -0.2, 0.7, 1.4, 2.1, 2.8, 3.5, 4.2, 4.9, 5.6, 6.3, 7.0, 7.7, 8.4, 9.1, 9.8, 10.5, 11.2, 11.9, 12.6, 13.3, 14.1, 14.9, 15.8],
  [14.95, -2.0, -1.0, 0.0, 0.8, 1.5, 2.2, 2.9, 3.6, 4.3, 5.0, 5.7, 6.4, 7.1, 7.8, 8.5, 9.2, 9.9, 10.6, 11.3, 12.0, 12.7, 13.4, 14.2, 15.1],
  [14.83, -2.5, -1.4, -0.4, 0.6, 1.3, 2.0, 2.7, 3.4, 4.1, 4.8, 5.5, 6.2, 6.9, 7.6, 8.3, 9.0, 9.7, 10.4, 11.1, 11.8, 12.5, 13.2, 14.0, 14.8],
  [14.7, -2.9, -1.8, -0.6, 0.4, 1.1, 1.8, 2.5, 3.2, 3.9, 4.6, 5.3, 6.0, 6.7, 7.4, 8.1, 8.8, 9.5, 10.2, 10.9, 11.6, 12.3, 13.0, 13.8, 14.6],
  [14.58, -2.2, -1.1, 0.1, 0.9, 1.6, 2.3, 3.0, 3.7, 4.4, 5.1, 5.8, 6.5, 7.2, 7.9, 8.6, 9.3, 10.0, 10.7, 11.4, 12.1, 12.8, 13.6, 14.4],
  [14.45, -2.6, -1.5, -0.3, 0.6, 1.3, 2.0, 2.7, 3.4, 4.1, 4.8, 5.5, 6.2, 6.9, 7.6, 8.3, 9.0, 9.7, 10.4, 11.1, 11.8, 12.5, 13.2, 14.0],
  [14.33, -1.3, -0.2, 0.7, 1.4, 2.1, 2.8, 3.5, 4.2, 4.9, 5.6, 6.3, 7.0, 7.7, 8.4, 9.1, 9.8, 10.5, 11.2, 11.9, 12.6, 13.5],
  [14.2, -1.9, -0.8, 0.3, 1.1, 1.8, 2.5, 3.2, 3.9, 4.6, 5.3, 6.0, 6.7, 7.4, 8.1, 8.8, 9.5, 10.2, 10.9, 11.6, 12.3, 13.1],
  [14.08, 0.0, 1.0, 1.8, 2.5, 3.2, 3.9, 4.6, 5.3, 6.0, 6.7, 7.4, 8.1, 8.8, 9.5, 10.2, 10.9, 11.6, 12.4, 13.3],
  [13.95, -0.6, 0.4, 1.4, 2.2, 2.9, 3.6, 4.3, 5.0, 5.7, 6.4, 7.1, 7.8, 8.5, 9.2, 9.9, 10.6, 11.3, 12.0, 12.8, 14.0, 14.8],
  [13.83, 1.8, 2.7, 3.5, 4.2, 4.9, 5.6, 6.3, 7.0, 7.7, 8.4, 9.1, 9.9, 10.7, 11.5],
  [13.7, 2.3, 3.1, 3.9, 4.6, 5.3, 6.0, 6.7, 7.4, 8.1, 8.8, 9.5, 10.3, 11.1, 12.0],
  [13.6, 3.5, 4.6, 5.5, 6.4, 7.2, 8.0, 8.9, 9.8, 10.7],
  [13.5, 4.2, 5.1, 6.0, 6.8, 7.6, 8.4, 9.3, 10.2]
];

const clouds = [cloudA, cloudB, cloudC];

// ---- layout (pixels) ----
const panelLeft = [59, 471, 882.7];
const plotWidth = 336;
const plotTop = 15;
const plotHeight = 348;
const legendLeft = [162.7, 571.7, 986];
const legendTop = 302.7;
const legendPadRight = [11.5, 9.7, 11.5];
const tagX = [224, 645, 1055];
const tagY = 433;

// ---- styles ----
const SANS = 'Liberation Sans, Arial, Helvetica, sans-serif';
const SERIF = 'Liberation Serif, Times New Roman, serif';
const AXIS_COLOR = '#404040';
const LABEL_COLOR = '#3a3a3a';
const MARKER_COLOR = '#5a80a8';
const LINE_COLOR = '#2d2d96';

const toPoints = rows => rows.flatMap(([iat, ...oats]) => oats.map(oat => [oat, iat]));
const segment = ys => [[lineX[0], ys[0]], [lineX[1], ys[1]]];

const grids = [], xAxes = [], yAxes = [], series = [], legends = [];

clouds.forEach((rows, i) => {
  grids.push({ left: panelLeft[i], top: plotTop, width: plotWidth, height: plotHeight, containLabel: false, outerBoundsMode: 'none' });

  xAxes.push({
    gridIndex: i, type: 'value', min: -5, max: 35,
    name: 'OAT, °C', nameLocation: 'middle', nameGap: 33, nameMoveOverlap: false,
    nameTextStyle: { fontFamily: SANS, fontSize: 18, color: LABEL_COLOR },
    axisLine: { onZero: false, lineStyle: { color: AXIS_COLOR, width: 1.5 } },
    axisTick: { inside: true, length: 4, customValues: xTicks, lineStyle: { color: AXIS_COLOR, width: 1.2 } },
    axisLabel: { customValues: xTicks, fontFamily: SANS, fontSize: 16, color: LABEL_COLOR, margin: 10 },
    splitLine: { show: false }
  });

  yAxes.push({
    gridIndex: i, type: 'value', min: 10, max: 30, interval: 5,
    name: 'IAT, °C', nameLocation: 'middle', nameGap: 31, nameMoveOverlap: false,
    nameTextStyle: { fontFamily: SANS, fontSize: 18, color: LABEL_COLOR },
    axisLine: { show: true, onZero: false, lineStyle: { color: AXIS_COLOR, width: 1.5 } },
    axisTick: { show: true, inside: true, length: 4, lineStyle: { color: AXIS_COLOR, width: 1.2 } },
    axisLabel: { fontFamily: SANS, fontSize: 16, color: LABEL_COLOR, margin: 8 },
    splitLine: { show: false }
  });

  series.push({
    type: 'scatter', name: scatterNames[i], xAxisIndex: i, yAxisIndex: i,
    data: toPoints(rows), symbol: 'circle', symbolSize: 8.2,
    itemStyle: { color: 'rgba(0,0,0,0)', borderColor: MARKER_COLOR, borderWidth: 1.7 },
    silent: true, z: 2, large: false, progressive: 0
  });

  const bound = (name, ys, width, type) => ({
    type: 'line', name, xAxisIndex: i, yAxisIndex: i, data: segment(ys),
    symbol: 'none', silent: true, z: 3,
    lineStyle: { color: LINE_COLOR, width, type, cap: 'butt' },
    itemStyle: { color: LINE_COLOR }
  });
  series.push(bound('Upper limit (dotted)', upperDotY, 2.4, [2.3, 2.4]));
  series.push(bound('Upper limit (dashed)', upperDashY, 2.4, [8.5, 5.5]));
  series.push(bound('Lower limit (dashed)', lowerDashY, 2.4, [8.5, 5.5]));
  series.push(bound('Lower limit (dotted)', lowerDotY, 2.4, [2.3, 2.4]));
  series.push(bound(comfortName, comfortY, 3.6, 'solid'));

  legends.push({
    left: legendLeft[i], top: legendTop, orient: 'vertical',
    itemWidth: 42.5, itemHeight: 8, itemGap: 5.3,
    padding: [5.5, legendPadRight[i], 4.5, 6.3],
    backgroundColor: '#fff', borderColor: '#333', borderWidth: 1.3, borderRadius: 0,
    selectedMode: false, z: 10,
    textStyle: { fontFamily: SANS, fontSize: 17, color: '#1a1a1a' },
    data: [
      { name: scatterNames[i], icon: 'circle', itemStyle: { color: 'rgba(0,0,0,0)', borderColor: MARKER_COLOR, borderWidth: 1.3 } },
      { name: comfortName, icon: 'path://M0 0H42V3H0Z', itemStyle: { color: LINE_COLOR, borderWidth: 0 } }
    ]
  });
});

const chart = echarts.init(document.getElementById('chart'), null, { renderer: 'canvas' });
chart.setOption({
  backgroundColor: '#fff',
  animation: false,
  grid: grids,
  xAxis: xAxes,
  yAxis: yAxes,
  legend: legends,
  series,
  graphic: panelTags.map((tag, i) => ({
    type: 'text', x: tagX[i], y: tagY,
    style: { text: tag, fontFamily: SERIF, fontSize: 28, fill: '#000', align: 'center', verticalAlign: 'middle' }
  }))
});
</script>
</body>
</html>
